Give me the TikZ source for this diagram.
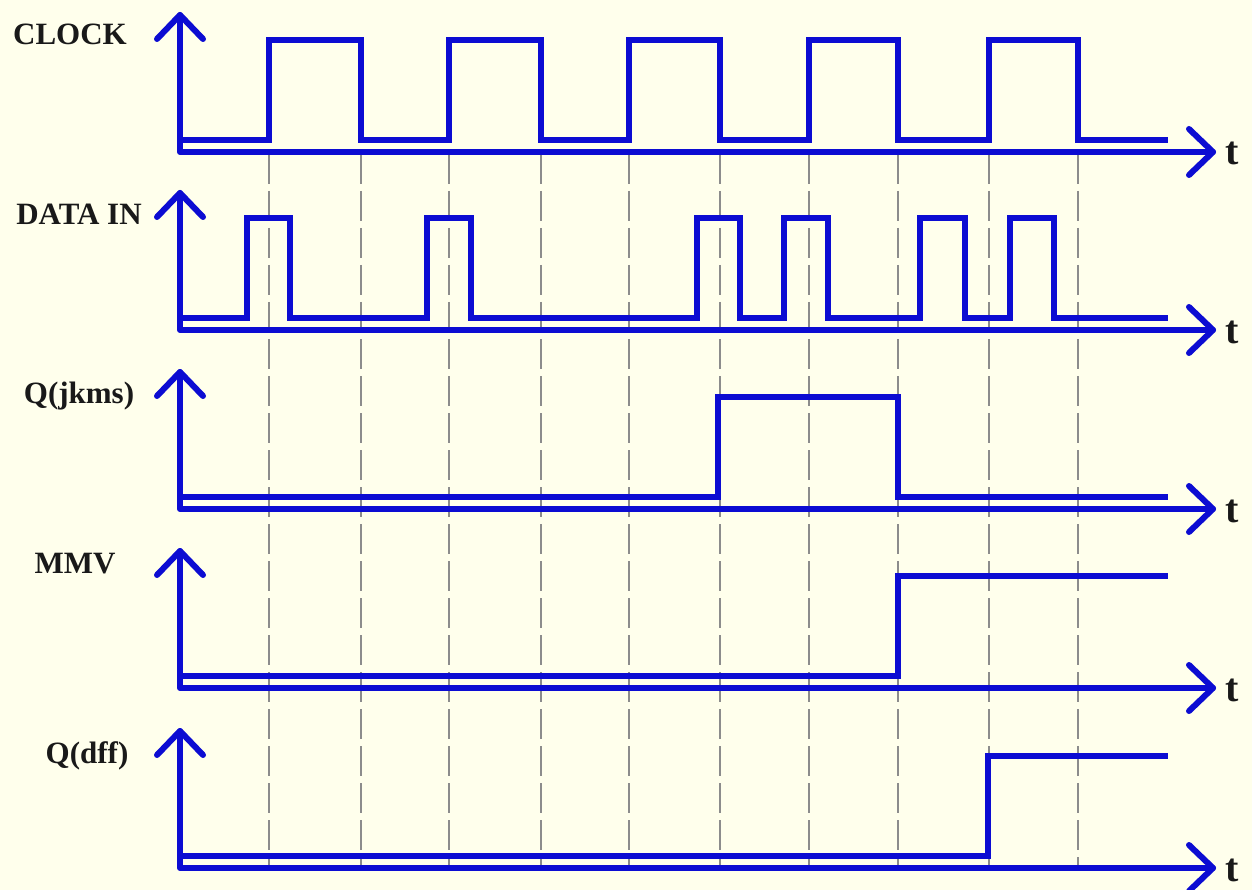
\documentclass[tikz,border=0pt]{standalone}
\usepackage{fontspec}
\setmainfont{Liberation Serif}
\definecolor{sigblue}{RGB}{12,12,210}
\definecolor{bgcream}{RGB}{255,255,236}
\definecolor{dashgray}{RGB}{140,140,140}
\begin{document}
\begin{tikzpicture}[x=1pt,y=-1pt,
  sig/.style={draw=sigblue,line width=5.5pt,line join=miter},
  axisline/.style={draw=sigblue,line width=6pt,line cap=round,line join=round},
  guide/.style={draw=dashgray,line width=1.3pt,dash pattern=on 30pt off 7pt},
  lbl/.style={font=\bfseries\fontsize{31}{32}\selectfont,anchor=base,inner sep=0pt,text=black!90},
  tlbl/.style={font=\bfseries\fontsize{40}{40}\selectfont,anchor=base west,inner sep=0pt,text=black!90}]
\fill[bgcream] (0,0) rectangle (1252,890);
\useasboundingbox (0,0) rectangle (1252,890);
% guide lines
\foreach \gx in {269,361,449,541,629,720,809,898,989,1078}
  \draw[guide] (\gx,154) -- (\gx,868);
% CLOCK
\draw[sig] (180,140) -- (269,140) -- (269,40) -- (361,40) -- (361,140)
  -- (449,140) -- (449,40) -- (541,40) -- (541,140)
  -- (629,140) -- (629,40) -- (720,40) -- (720,140)
  -- (809,140) -- (809,40) -- (898,40) -- (898,140)
  -- (989,140) -- (989,40) -- (1078,40) -- (1078,140) -- (1168,140);
% DATA IN
\draw[sig] (180,318) -- (247,318) -- (247,218) -- (290,218) -- (290,318)
  -- (427,318) -- (427,218) -- (471,218) -- (471,318)
  -- (697,318) -- (697,218) -- (740,218) -- (740,318)
  -- (784,318) -- (784,218) -- (828,218) -- (828,318)
  -- (920,318) -- (920,218) -- (965,218) -- (965,318)
  -- (1010,318) -- (1010,218) -- (1054,218) -- (1054,318) -- (1168,318);
% Q(jkms)
\draw[sig] (180,497) -- (718,497) -- (718,397) -- (898,397) -- (898,497) -- (1168,497);
% MMV
\draw[sig] (180,676) -- (898,676) -- (898,576) -- (1168,576);
% Q(dff)
\draw[sig] (180,856) -- (988,856) -- (988,756) -- (1168,756);
% axes
\foreach \ay/\nm in {152/a,330/b,509/c,688/d,868/e}{
  \draw[axisline] (180,\ay-137) -- (180,\ay) -- (1213,\ay);
  \draw[axisline] (157,\ay-113) -- (180,\ay-137) -- (203,\ay-113);
  \draw[axisline] (1189,\ay-23) -- (1213,\ay) -- (1189,\ay+23);
  \node[tlbl] (t\nm) at (1225,\ay+13) {t};
}
% labels
\node[lbl] (lclock) at (70,45) {CLOCK};
\node[lbl] (ldata) at (79,225) {DATA IN};
\node[lbl] (ljk) at (79,403) {Q(jkms)};
\node[lbl] (lmmv) at (75,573) {MMV};
\node[lbl] (ldff) at (87,763) {Q(dff)};
\end{tikzpicture}
\end{document}
